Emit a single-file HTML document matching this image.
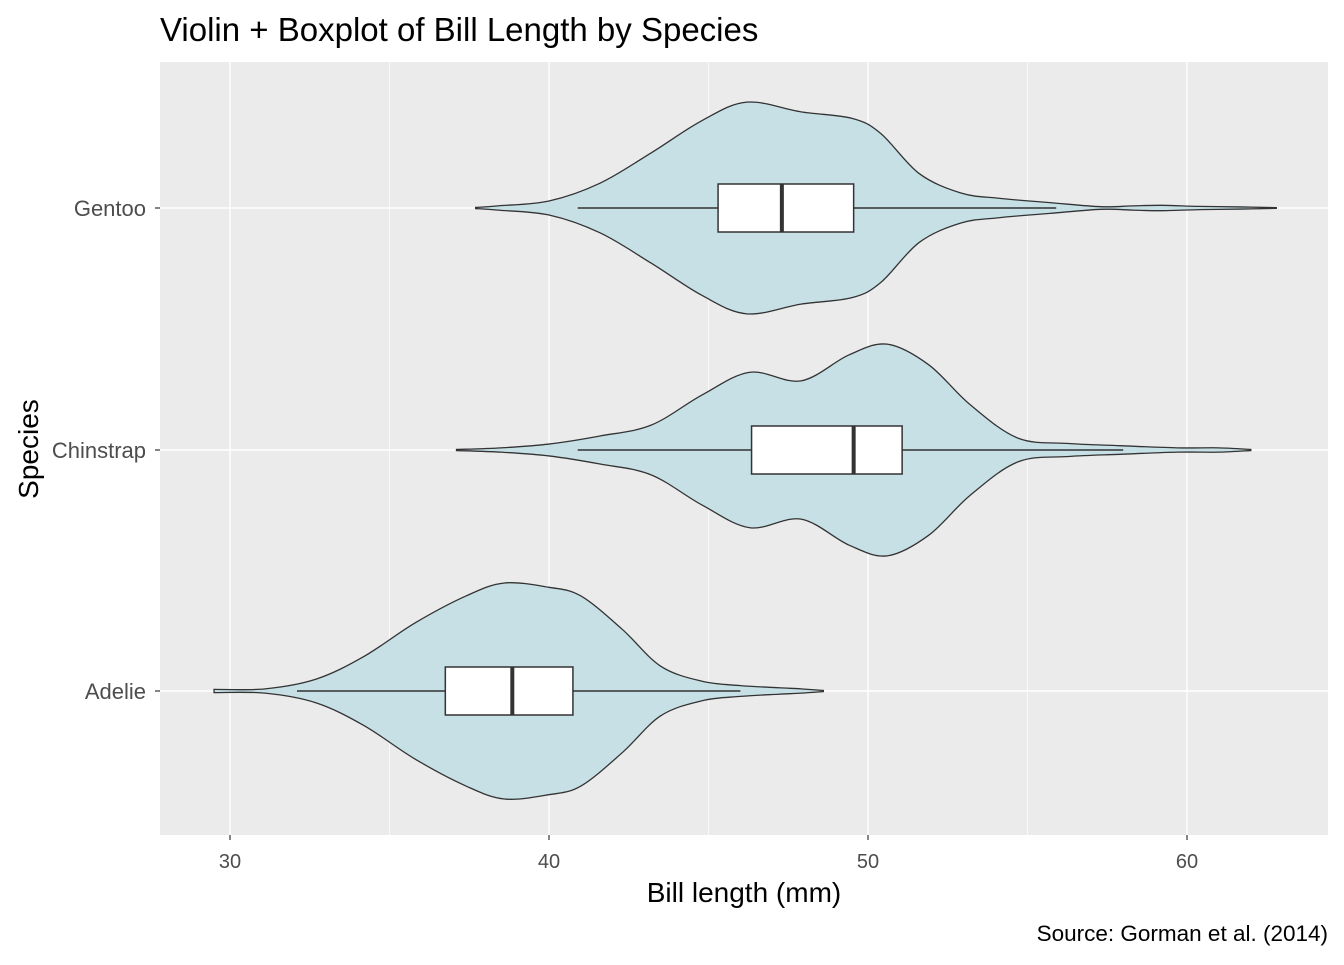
<!DOCTYPE html>
<html><head><meta charset="utf-8"><style>
body{margin:0;background:#fff;font-family:"Liberation Sans",Arial,sans-serif}
</style></head><body>
<svg width="1344" height="960" xmlns="http://www.w3.org/2000/svg" id="chart" font-family="Liberation Sans, Arial, sans-serif">
<text x="160" y="41" font-size="33" fill="#000">Violin + Boxplot of Bill Length by Species</text>
<rect x="160" y="62" width="1168" height="773" fill="#ebebeb"/>
<g id="grid"></g>
<g id="marks"></g>
<g id="axes"></g>
<text x="744" y="902" font-size="28" text-anchor="middle" fill="#000">Bill length (mm)</text>
<text transform="translate(38,449) rotate(-90)" font-size="28" text-anchor="middle" fill="#000">Species</text>
<text x="1328" y="941" font-size="22.5" text-anchor="end" fill="#000">Source: Gorman et al. (2014)</text>
</svg>
<script>
const species = ["Adelie","Chinstrap","Gentoo"];
const xTicks = [30,40,50,60];
const xMinor = [35,45,55];
const adelieX = [29.5,31.1,32.7,34.2,35.8,37.4,38.6,40,41,42.3,43.5,44.8,46,47.2,47.9,48.6];
const adelieD = [0.015,0.02,0.11,0.32,0.63,0.88,1.0,0.96,0.88,0.57,0.23,0.09,0.05,0.03,0.02,0.005];
const chinX = [37.1,38.5,40,41.6,43.2,44.8,46.3,47.9,49.4,50.6,51.9,53.2,54.7,56.3,57.9,59.7,61,62.0];
const chinD = [0.005,0.02,0.055,0.13,0.23,0.51,0.72,0.64,0.88,0.98,0.79,0.42,0.11,0.06,0.04,0.02,0.02,0.005];
const gentX = [37.7,38.4,40,41.6,43.2,44.8,46.2,47.9,49.5,50.4,51.6,52.9,54.1,55.7,57.3,58.3,59.2,60.4,61.7,62.8];
const gentD = [0.005,0.02,0.065,0.23,0.51,0.81,0.98,0.89,0.83,0.69,0.32,0.14,0.09,0.05,0.012,0.02,0.025,0.015,0.01,0.003];
const q1 = [36.75,46.35,45.3];
const med = [38.85,49.55,47.3];
const q3 = [40.75,51.07,49.55];
const wLo = [32.1,40.9,40.9];
const wHi = [46.0,58.0,55.9];
const NS="http://www.w3.org/2000/svg";
const xs = v => 230 + (v-30)*31.9;
const ys = i => [691,450,208][i];
const halfMax = 108;
function mk(tag,attrs,parent){const e=document.createElementNS(NS,tag);for(const k in attrs)e.setAttribute(k,attrs[k]);parent.appendChild(e);return e;}
const grid=document.getElementById('grid'), marks=document.getElementById('marks'), axes=document.getElementById('axes');
xMinor.forEach(v=>{const l=mk('line',{x1:xs(v),x2:xs(v),y1:62,y2:835,stroke:'#fff','stroke-width':0.7},grid);

});
xTicks.forEach(v=>{const l=mk('line',{x1:xs(v),x2:xs(v),y1:62,y2:835,stroke:'#fff','stroke-width':1.4},grid);


const t=mk('line',{x1:xs(v),x2:xs(v),y1:835,y2:840,stroke:'#333','stroke-width':1.2},axes);


const tx=mk('text',{x:xs(v),y:868,'font-size':20,'text-anchor':'middle',fill:'#4d4d4d'},axes);tx.textContent=v;

});
species.forEach((s,i)=>{const l=mk('line',{x1:160,x2:1328,y1:ys(i),y2:ys(i),stroke:'#fff','stroke-width':1.4},grid);


const t=mk('line',{x1:155,x2:160,y1:ys(i),y2:ys(i),stroke:'#333','stroke-width':1.2},axes);


const tx=mk('text',{x:146,y:ys(i)+8,'font-size':22,'text-anchor':'end',fill:'#4d4d4d'},axes);tx.textContent=s;

});
function smooth(pts){let d='M'+pts[0][0]+','+pts[0][1];for(let i=0;i<pts.length-1;i++){const p0=pts[Math.max(i-1,0)],p1=pts[i],p2=pts[i+1],p3=pts[Math.min(i+2,pts.length-1)];
const c1=[p1[0]+(p2[0]-p0[0])/6,p1[1]+(p2[1]-p0[1])/6],c2=[p2[0]-(p3[0]-p1[0])/6,p2[1]-(p3[1]-p1[1])/6];
d+=' C'+c1[0]+','+c1[1]+' '+c2[0]+','+c2[1]+' '+p2[0]+','+p2[1];}return d;}
const vx=[adelieX,chinX,gentX], vd=[adelieD,chinD,gentD];
species.forEach((s,i)=>{const cy=ys(i);
const top=vx[i].map((v,j)=>[xs(v),cy-vd[i][j]*halfMax]);
const bot=vx[i].map((v,j)=>[xs(v),cy+vd[i][j]*halfMax]).reverse();
const d=smooth(top)+' L'+bot[0][0]+','+bot[0][1]+smooth(bot).replace(/^M[^ ]+/,'')+' Z';
const p=mk('path',{d:d,fill:'#c6e0e6',stroke:'#333','stroke-width':1.3},marks);


const w=mk('line',{x1:xs(wLo[i]),x2:xs(wHi[i]),y1:cy,y2:cy,stroke:'#333','stroke-width':1.5},marks);


const b=mk('rect',{x:xs(q1[i]),y:cy-24,width:xs(q3[i])-xs(q1[i]),height:48,fill:'#fff',stroke:'#333','stroke-width':1.5},marks);


const m=mk('line',{x1:xs(med[i]),x2:xs(med[i]),y1:cy-24,y2:cy+24,stroke:'#333','stroke-width':4},marks);

});
</script>
</body></html>
